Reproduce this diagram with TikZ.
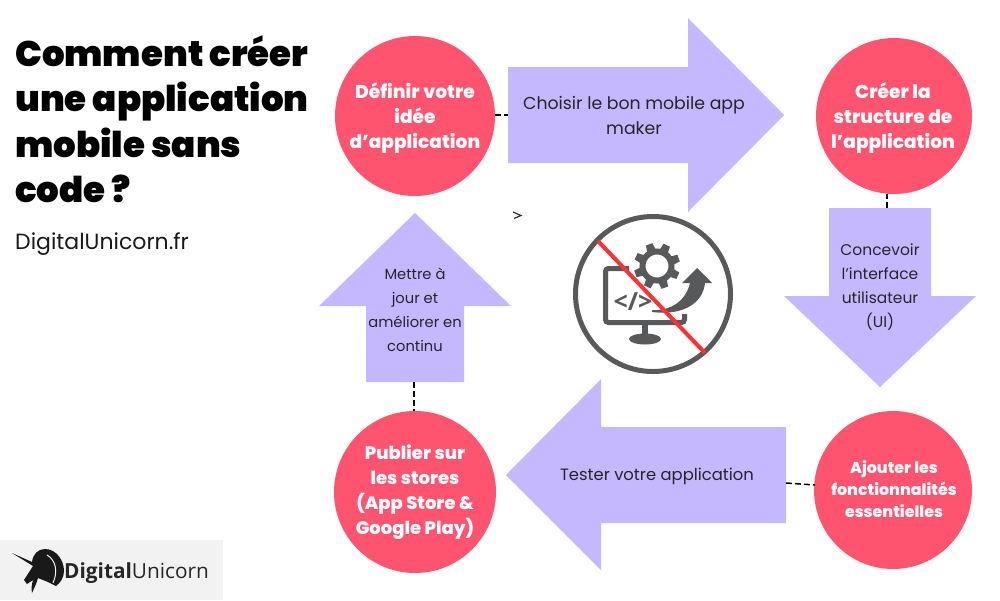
\documentclass[tikz,border=0pt]{standalone}
\usepackage{fontspec}
\setmainfont{Poppins}
\newfontfamily\ttlfont{Poppins Black}
\newfontfamily\boldf{Poppins ExtraBold}
\newfontfamily\bodyf{Poppins}
\newfontfamily\logof{Open Sans}
\usetikzlibrary{shapes.geometric,calc}
\definecolor{rosec}{HTML}{FF5470}
\definecolor{lil}{HTML}{C6B8FF}
\definecolor{icon}{HTML}{58595B}
\definecolor{redl}{HTML}{FF3131}
\tikzset{
 x=1pt,y=-1pt,
 circ/.style={circle,fill=rosec,draw=none,inner sep=0pt,text=white,align=center},
 arrowshape/.style={fill=lil,draw=none},
 lab/.style={align=center,font=\bodyf\fontsize{16}{24}\selectfont,text=black!85,inner sep=0pt},
 ctitle/.style={text=white,align=center,inner sep=0pt,font=\boldf\fontsize{18.6}{25}\selectfont},
 title/.style={anchor=base west,inner sep=0pt,font=\ttlfont\fontsize{35.6}{36}\selectfont},
 conn/.style={draw=black,line width=1.5pt,dash pattern=on 6pt off 3pt},
 iconline/.style={draw=icon,line width=5pt},
}
\begin{document}
\begin{tikzpicture}
\useasboundingbox (0,0) rectangle (1000,600);
\fill[white] (0,0) rectangle (1000,600);
% title
\node[title] (t1) at (15,66) {Comment créer};
\node[title] (t2) at (15,111) {une application};
\node[title] (t3) at (15,157) {mobile sans};
\node[title] (t4) at (15,202) {code ?};
\node[anchor=base west,inner sep=0pt,font=\bodyf\fontsize{22}{24}\selectfont,text=black!90] (sub) at (15,249) {DigitalUnicorn.fr};
% arrows
\fill[arrowshape] (508,67) -- (688,67) -- (688,18) -- (784,115) -- (688,212) -- (688,163) -- (508,163) -- cycle;
\fill[arrowshape] (829,208) -- (931,208) -- (931,296) -- (976,296) -- (880,387) -- (784,296) -- (829,296) -- cycle;
\fill[arrowshape] (786,427) -- (601,427) -- (601,379) -- (506,475) -- (601,570) -- (601,523) -- (786,523) -- cycle;
\fill[arrowshape] (366,382) -- (366,306) -- (319,306) -- (415,213) -- (511,306) -- (464,306) -- (464,382) -- cycle;
\coordinate (aR) at (508,115);
\coordinate (aD) at (887,208);
\coordinate (aL) at (786,483);
\coordinate (aU) at (414,382);
% circles
\node[circ,minimum size=160pt] (c1) at (415,116) {};
\node[circ,minimum size=156pt] (c2) at (894,116) {};
\node[circ,minimum size=158pt] (c3) at (893,490) {};
\node[circ,minimum size=162pt] (c4) at (415,492) {};
% connectors
\draw[conn] (c1) ++(80,-1) -- (aR);
\draw[conn] (aD) -- (887,194);
\draw[conn] (aL) -- (815,485);
\draw[conn] (aU) -- (414,411);
% circle text
\node[ctitle] (tc1) at (415,118) {Définir votre\\idée\\d’application};
\node[ctitle] (tc2) at (893,118) {Créer la\\structure de\\l’application};
\node[ctitle,font=\boldf\fontsize{15.8}{22}\selectfont] (tc3) at (894,489) {Ajouter les\\fonctionnalités\\essentielles};
\node[ctitle,font=\boldf\fontsize{18}{25}\selectfont] (tc4) at (415,492) {Publier sur\\les stores\\(App Store \&\\Google Play)};
% arrow labels
\node[lab,font=\bodyf\fontsize{17.3}{25}\selectfont] (l1) at (634,115) {Choisir le bon mobile app\\maker};
\node[lab,font=\bodyf\fontsize{15.5}{24}\selectfont] (l2) at (880,287) {Concevoir\\l’interface\\utilisateur\\(UI)};
\node[lab,font=\bodyf\fontsize{16.4}{24}\selectfont] (l3) at (657,476) {Tester votre application};
\node[lab,font=\bodyf\fontsize{14.7}{24}\selectfont] (l4) at (415,310) {Mettre à\\jour et\\améliorer en\\continu};
% stray mark
\draw[black!80,line width=1.2pt] (513,212) -- (521,215.5) -- (514,218.5);
% icon
\draw[iconline] (653,294) circle (77.5);
\draw[iconline,rounded corners=3pt] (629,268.5) -- (605.5,268.5) -- (605.5,322.5) -- (684.5,322.5) -- (684.5,314);
\fill[icon] (642,325) rectangle (648,335);
\fill[icon] (645,339) ellipse (16 and 5.5);
% gear
\begin{scope}[shift={(657,266)}]
\foreach \a in {0,45,...,315}{
  \fill[icon,rotate=\a+20] (-3.5,-23) -- (3.5,-23) -- (4.5,-15) -- (-4.5,-15) -- cycle;
}
\draw[icon,line width=6pt] (0,0) circle (14.5);
\end{scope}
% curved arrow
\fill[icon] (652,310) .. controls (672,311) and (686,300) .. (690,283) -- (682,283) -- (697,268) -- (712,283) -- (705,283) .. controls (703,302) and (685,316) .. (652,312) -- cycle;
% code glyph
\node[inner sep=0pt,text=icon,font=\logof\bfseries\fontsize{25}{25}\selectfont] (code) at (633,302) {</>};
\draw[redl,line width=4pt] (598,241) -- (705,353);
% logo
\fill[black!5] (0,540) rectangle (223,600);
\fill[black!90] (12,553) -- (32,562) .. controls (33,554) and (38,549) .. (45,549) .. controls (56,549) and (64,560) .. (64,571) .. controls (64,578) and (60,583) .. (56,586) -- (48,582) -- (38,578) -- (36,584) -- (32,593) .. controls (31,588) and (32,584) .. (33,580) -- (27,584) -- (24,580) -- (33,566) -- cycle;
\draw[black!5,line width=1pt] (47,555) .. controls (56,560) and (58,572) .. (53,583);
\node[anchor=base west,inner sep=0pt,text=black!85,font=\logof\fontsize{20.8}{24}\selectfont] (lg) at (64,578) {\textbf{Digital}Unicorn};
\end{tikzpicture}
\end{document}
